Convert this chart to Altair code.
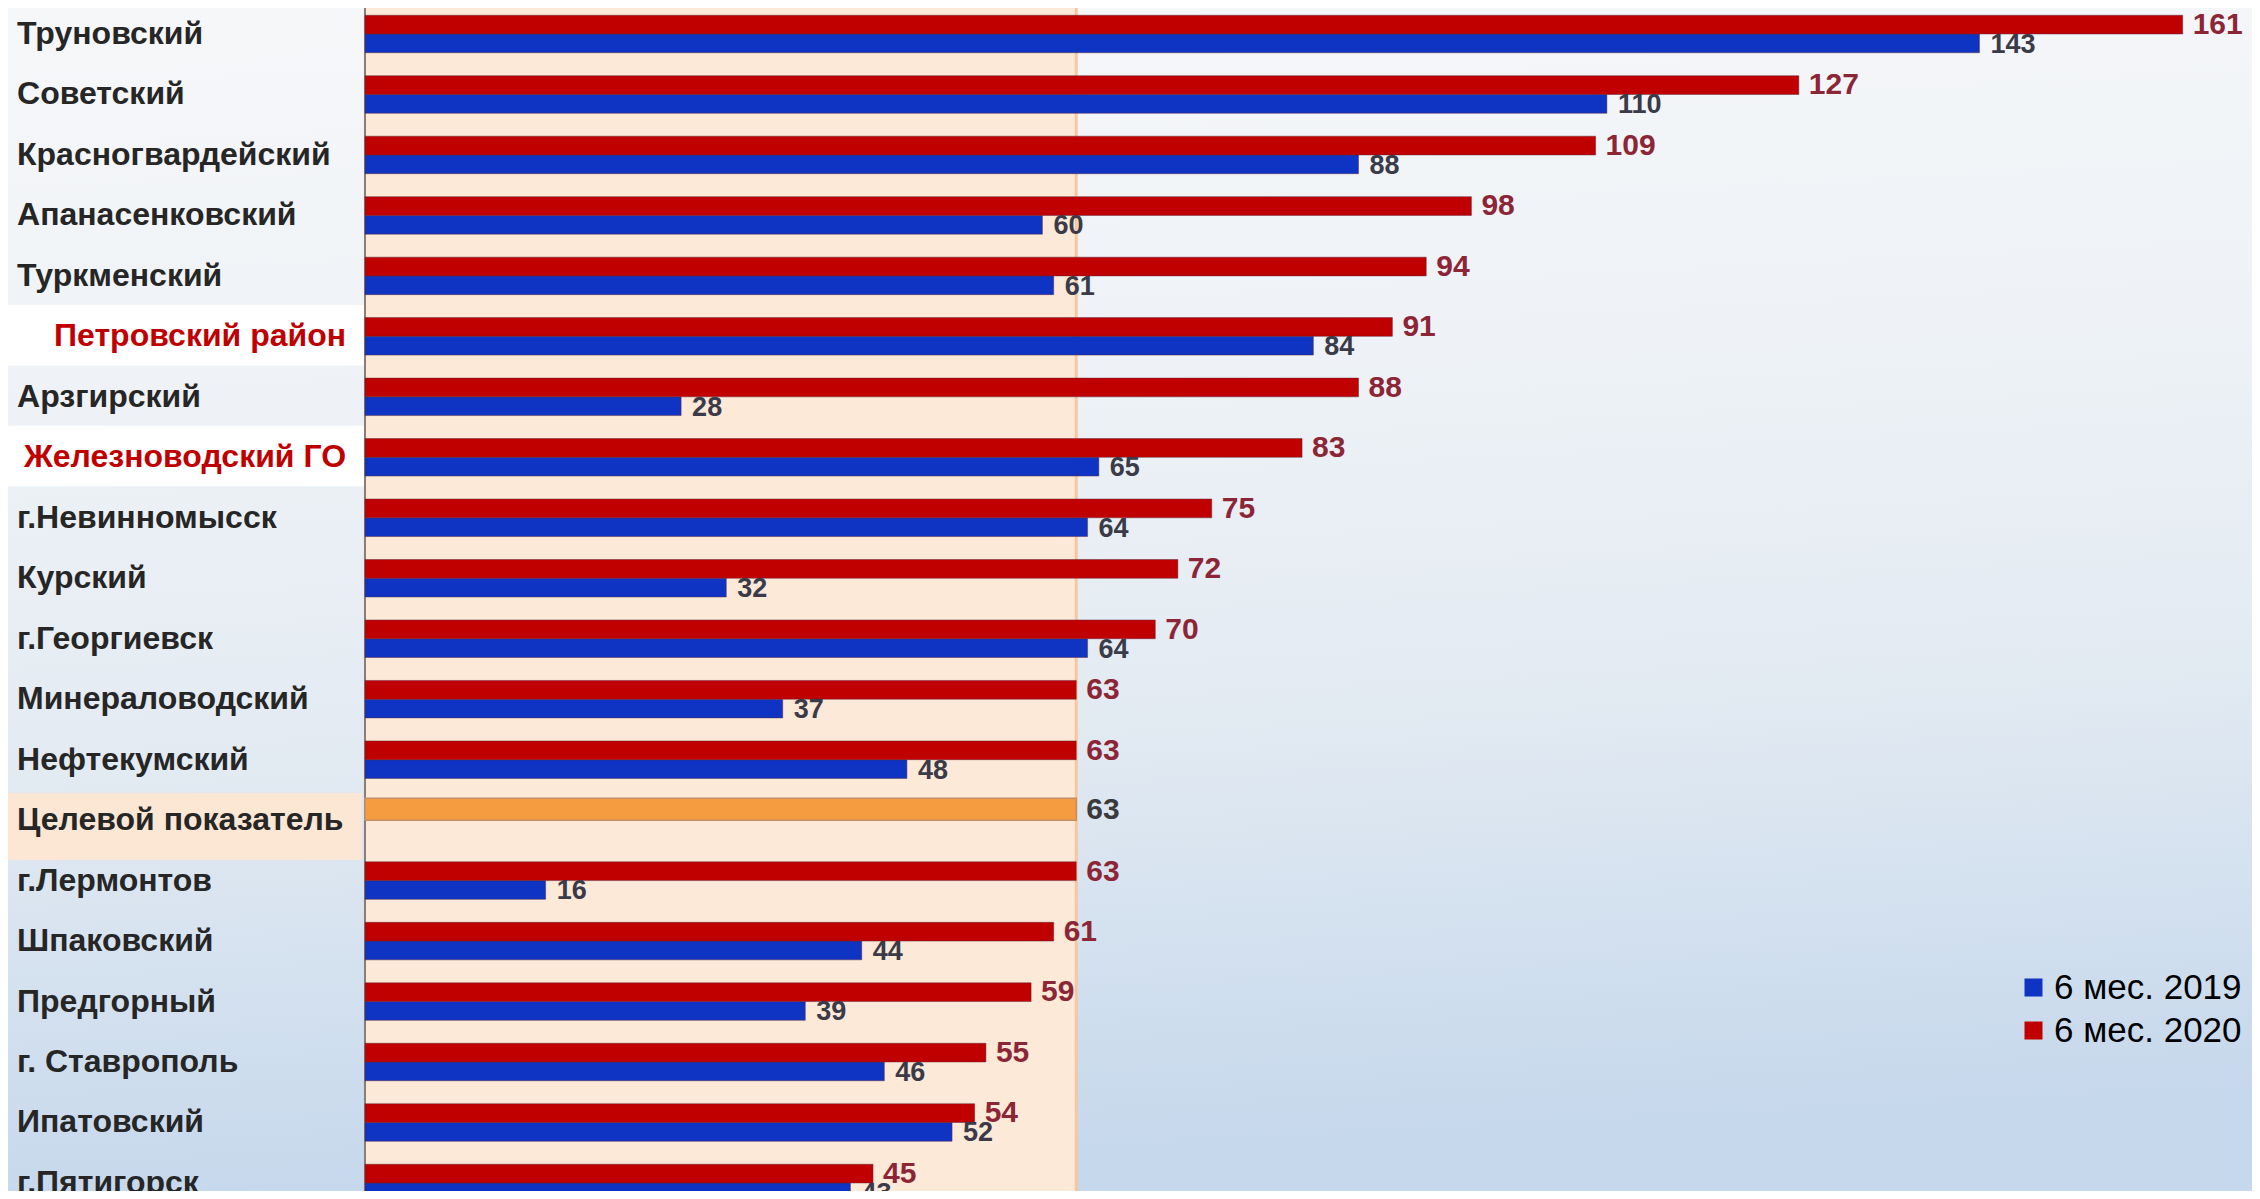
import altair as alt
import pandas as pd

# ---------------- data ----------------
categories = ["Труновский", "Советский", "Красногвардейский", "Апанасенковский",
              "Туркменский", "Петровский район", "Арзгирский", "Железноводский ГО",
              "г.Невинномысск", "Курский", "г.Георгиевск", "Минераловодский",
              "Нефтекумский", "Целевой показатель", "г.Лермонтов", "Шпаковский",
              "Предгорный", "г. Ставрополь", "Ипатовский", "г.Пятигорск"]
values_2020 = [161, 127, 109, 98, 94, 91, 88, 83, 75, 72, 70, 63, 63, None,
               63, 61, 59, 55, 54, 45]
values_2019 = [143, 110, 88, 60, 61, 84, 28, 65, 64, 32, 64, 37, 48, None,
               16, 44, 39, 46, 52, 43]
target_value = 63
target_label = "Целевой показатель"
highlighted = ["Петровский район", "Железноводский ГО"]
series_names = ["6 мес. 2019", "6 мес. 2020"]
series_colors = ["#0F33C2", "#C00000"]

# ---------------- layout ----------------
W, H = 2244, 1183
X_MIN, X_MAX = -31.62, 167.14
Y_MIN, Y_MAX = -0.43, 19.133
FONT = "Liberation Sans"

xs = alt.Scale(domain=[X_MIN, X_MAX], nice=False, zero=False)
ys = alt.Scale(domain=[Y_MIN, Y_MAX], nice=False, zero=False, reverse=True)

rows = []
for i, name in enumerate(categories):
    if values_2019[i] is not None:
        rows.append({"name": name, "row": i, "series": series_names[0],
                     "value": values_2019[i], "x0": 0,
                     "y0": i, "y1": i + 0.31, "ylab": i + 0.18})
    if values_2020[i] is not None:
        rows.append({"name": name, "row": i, "series": series_names[1],
                     "value": values_2020[i], "x0": 0,
                     "y0": i - 0.31, "y1": i, "ylab": i - 0.15})
bars = pd.DataFrame(rows)

t_row = categories.index(target_label)
target_df = pd.DataFrame([{"name": target_label, "x0": 0, "value": target_value,
                           "y0": t_row - 0.36, "y1": t_row, "ylab": t_row - 0.17}])

labels = pd.DataFrame({"name": categories, "row": list(range(len(categories)))})
labels["kind"] = ["hi" if n in highlighted else "norm" for n in categories]
labels["xl"] = X_MIN + 0.8
labels["xr"] = -1.68
labels["xmin"] = X_MIN
labels["xz"] = 0.0

band_df = pd.DataFrame({"x0": [0], "x1": [target_value]})
one = pd.DataFrame({"a": [0]})

X = lambda f: alt.X(f, type="quantitative", scale=xs, axis=None)
Y = lambda f: alt.Y(f, type="quantitative", scale=ys, axis=None)

gradient = alt.Gradient(
    gradient="linear",
    stops=[alt.GradientStop(color="#F6F7F9", offset=0),
           alt.GradientStop(color="#EEF2F6", offset=0.35),
           alt.GradientStop(color="#E2EAF2", offset=0.65),
           alt.GradientStop(color="#C6D8EC", offset=1)],
    x1=0, y1=0, x2=0.1, y2=1)

bg = alt.Chart(one).mark_rect(fill=gradient).encode(
    x=alt.value(0), x2=alt.value(W), y=alt.value(0), y2=alt.value(H))

band = alt.Chart(band_df).mark_rect(color="#FDE9D8").encode(
    x=X("x0"), x2="x1", y=alt.value(0), y2=alt.value(H))

band_edge = alt.Chart(band_df).mark_rule(color="#F8C7A0", strokeWidth=3).encode(
    x=X("x1"), y=alt.value(0), y2=alt.value(H))

hi_box = alt.Chart(labels).transform_filter(alt.datum.kind == "hi").transform_calculate(
    ya="datum.row - 0.52", yb="datum.row + 0.48"
).mark_rect(color="#FFFFFF").encode(x=X("xmin"), x2="xz", y=Y("ya:Q"), y2="yb:Q")

tgt_box = alt.Chart(labels).transform_filter(alt.datum.name == target_label).transform_calculate(
    ya="datum.row - 0.45", yb="datum.row + 0.66", xe="-0.3"
).mark_rect(color="#FCE6D4").encode(x=X("xmin"), x2="xe:Q", y=Y("ya:Q"), y2="yb:Q")

axis_line = alt.Chart(band_df).mark_rule(color="#8C7D74", strokeWidth=2).encode(
    x=X("x0"), y=alt.value(0), y2=alt.value(H))

bar_layer = alt.Chart(bars).mark_rect(stroke="#5A2A40", strokeWidth=0.8,
                                      strokeOpacity=0.6, clip=True).encode(
    x=X("x0"), x2="value:Q", y=Y("y0"), y2="y1:Q",
    color=alt.Color("series:N",
                    scale=alt.Scale(domain=series_names, range=series_colors),
                    legend=alt.Legend(orient="none", legendX=2008, legendY=962,
                                      title=None, symbolType="square",
                                      symbolSize=324, symbolStrokeWidth=0,
                                      labelFont=FONT, labelFontSize=35,
                                      labelColor="#000000", rowPadding=7,
                                      labelOffset=3, padding=0, labelLimit=0)))

tgt_bar = alt.Chart(target_df).mark_rect(color="#F59C40", stroke="#C49068",
                                         strokeWidth=1.5).encode(
    x=X("x0"), x2="value:Q", y=Y("y0"), y2="y1:Q")

red_txt = alt.Chart(bars).transform_filter(alt.datum.series == series_names[1]).mark_text(
    align="left", baseline="middle", dx=10, font=FONT, fontSize=30,
    fontWeight="bold", color="#8C2636", clip=True).encode(
    x=X("value"), y=Y("ylab"), text="value:Q")

blue_txt = alt.Chart(bars).transform_filter(alt.datum.series == series_names[0]).mark_text(
    align="left", baseline="middle", dx=11, font=FONT, fontSize=27,
    fontWeight="bold", color="#3A3A48", clip=True).encode(
    x=X("value"), y=Y("ylab"), text="value:Q")

tgt_txt = alt.Chart(target_df).mark_text(
    align="left", baseline="middle", dx=10, font=FONT, fontSize=30,
    fontWeight="bold", color="#3A3A3A").encode(
    x=X("value"), y=Y("ylab"), text="value:Q")

norm_lab = alt.Chart(labels).transform_filter(alt.datum.kind == "norm").mark_text(
    align="left", baseline="middle", font=FONT, fontSize=32, fontWeight="bold",
    color="#262626").encode(x=X("xl"), y=Y("row"), text="name:N")

hi_lab = alt.Chart(labels).transform_filter(alt.datum.kind == "hi").mark_text(
    align="right", baseline="middle", font=FONT, fontSize=32, fontWeight="bold",
    color="#C00000").encode(x=X("xr"), y=Y("row"), text="name:N")

chart = alt.layer(
    bg, band, band_edge, hi_box, tgt_box, axis_line, bar_layer, tgt_bar,
    red_txt, blue_txt, tgt_txt, norm_lab, hi_lab
).properties(
    width=W, height=H, padding=0,
    autosize=alt.AutoSizeParams(type="none"),
    background="#EEF2F6"
).configure_view(stroke=None)

chart.save("out.html", embed_options={"renderer": "svg", "actions": False})
